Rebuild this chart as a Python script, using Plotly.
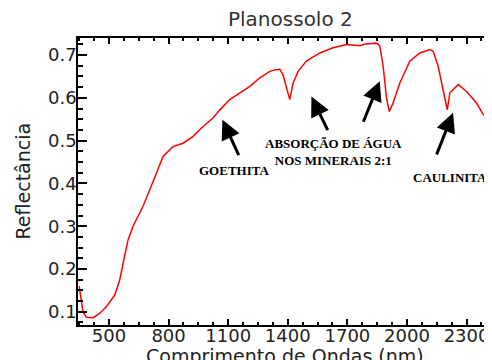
import plotly.graph_objects as go

wavelength = [350, 369, 386, 420, 453, 487, 529, 554, 571, 596, 621, 671, 725, 772, 822, 873,
              923, 973, 1024, 1058, 1108, 1159, 1209, 1259, 1310, 1340, 1360, 1376, 1393, 1410,
              1427, 1452, 1494, 1561, 1628, 1696, 1763, 1789, 1820, 1847, 1863, 1880, 1897, 1911,
              1930, 1964, 2014, 2065, 2115, 2132, 2157, 2182, 2203, 2216, 2258, 2300, 2350, 2384,
              2417, 2430]
reflectance = [0.160, 0.100, 0.087, 0.086, 0.096, 0.112, 0.139, 0.174, 0.213, 0.268, 0.300,
               0.346, 0.408, 0.463, 0.486, 0.494, 0.510, 0.533, 0.553, 0.572, 0.596, 0.611,
               0.627, 0.647, 0.662, 0.666, 0.667, 0.654, 0.627, 0.596, 0.635, 0.662, 0.686,
               0.705, 0.717, 0.725, 0.722, 0.726, 0.727, 0.728, 0.722, 0.674, 0.600, 0.568,
               0.588, 0.635, 0.686, 0.705, 0.713, 0.709, 0.674, 0.619, 0.572, 0.612, 0.631,
               0.615, 0.588, 0.561, 0.553, 0.537]

x_ticks = [500, 800, 1100, 1400, 1700, 2000, 2300]
x_ticklabels = ["500", "800", "1100", "1400", "1700", "2000", "2300"]
y_ticks = [0.1, 0.2, 0.3, 0.4, 0.5, 0.6, 0.7]
y_ticklabels = ["0.1", "0.2", "0.3", "0.4", "0.5", "0.6", "0.7"]

arrow_labels = ["", "", "", ""]
arrow_tips_x = [1071, 1519, 1863, 2232]
arrow_tips_y = [0.549, 0.603, 0.639, 0.565]
arrow_ax = [17, 17, -17, -17]
arrow_ay = [37, 35, 42, 43]

text_labels = ["GOETHITA", "ABSORÇÃO DE ÁGUA<br>NOS MINERAIS 2:1", "CAULINITA"]
text_x = [1128, 1630, 2216]
text_y = [0.430, 0.474, 0.415]

fig = go.Figure()
fig.add_trace(go.Scatter(x=wavelength, y=reflectance, mode="lines",
                         line=dict(color="#ff0000", width=1.5), showlegend=False))

tickfont = dict(family="DejaVu Sans", size=18, color="#222222")

# page body has an 8px margin: figure is sized to end at the window edge
fig.update_layout(
    width=484, height=352,
    margin=dict(l=70, r=0, t=30, b=35, autoexpand=False),
    paper_bgcolor="white", plot_bgcolor="white",
    xaxis=dict(range=[344, 2428], showline=True, linecolor="black", linewidth=1.5,
               mirror="ticks", ticks="inside", ticklen=6, tickcolor="black", tickwidth=1.5,
               tickvals=x_ticks, ticktext=x_ticklabels, tickfont=tickfont,
               ticklabelstandoff=-6,
               showgrid=False, zeroline=False, automargin=False,
               minor=dict(dtick=75, tick0=500, ticks="inside", ticklen=3,
                          tickcolor="black", tickwidth=1.5, showgrid=False)),
    yaxis=dict(range=[0.069, 0.740], showline=True, linecolor="black", linewidth=1.5,
               ticks="inside", ticklen=9, tickcolor="black", tickwidth=1.5,
               tickvals=y_ticks, ticktext=y_ticklabels, tickfont=tickfont,
               ticklabelstandoff=-4,
               showgrid=False, zeroline=False, automargin=False,
               minor=dict(dtick=0.025, tick0=0.1, ticks="inside", ticklen=5,
                          tickcolor="black", tickwidth=1.5, showgrid=False)),
)

annotations = []
annotations.append(dict(text="Planossolo 2", xref="paper", yref="paper", x=0.514, y=1.0,
                        yshift=19, xanchor="center", yanchor="middle", showarrow=False,
                        font=dict(family="DejaVu Sans", size=20, color="#333333")))
annotations.append(dict(text="Comprimento de Ondas (nm)", xref="paper", yref="paper", x=0.5, y=0,
                        yshift=-31, xanchor="center", yanchor="middle", showarrow=False,
                        font=dict(family="DejaVu Sans", size=19, color="#222222")))
annotations.append(dict(text="Reflectância", xref="paper", yref="paper", x=0, y=0.5,
                        xshift=-56, xanchor="center", yanchor="middle", textangle=-90,
                        showarrow=False,
                        font=dict(family="DejaVu Sans", size=19, color="#222222")))
for t, x, y, ax, ay in zip(arrow_labels, arrow_tips_x, arrow_tips_y, arrow_ax, arrow_ay):
    annotations.append(dict(text=t, x=x, y=y, xref="x", yref="y", ax=ax, ay=ay,
                            showarrow=True, arrowhead=2, arrowsize=1.3, arrowwidth=3,
                            arrowcolor="black"))
for t, x, y in zip(text_labels, text_x, text_y):
    annotations.append(dict(text="<b>" + t + "</b>", x=x, y=y, xref="x", yref="y",
                            showarrow=False, xanchor="center", yanchor="middle",
                            font=dict(family="Liberation Serif", size=13, color="black")))
fig.update_layout(annotations=annotations)

fig.write_html("out.html")
